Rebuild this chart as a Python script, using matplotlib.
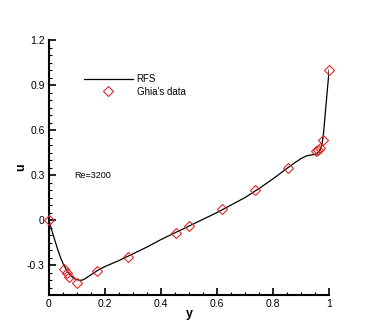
import matplotlib
matplotlib.use("Agg")
import matplotlib.pyplot as plt
from matplotlib.ticker import MultipleLocator, FuncFormatter

plt.rcParams["font.family"] = ["Liberation Sans", "DejaVu Sans"]

# RFS solution, u along the vertical centreline
rfs_y = [0, 0.005, 0.01, 0.02, 0.03, 0.04, 0.05, 0.06, 0.07, 0.08, 0.09, 0.10,
         0.11, 0.12, 0.13, 0.15, 0.17, 0.2, 0.25, 0.3, 0.35, 0.4, 0.45, 0.5,
         0.55, 0.6, 0.65, 0.7, 0.75, 0.8, 0.85, 0.88, 0.9, 0.92, 0.94, 0.955,
         0.968, 0.975, 0.98, 0.99, 1.0]
rfs_u = [0, -0.035, -0.07, -0.13, -0.19, -0.245, -0.29, -0.325, -0.355, -0.375,
         -0.39, -0.398, -0.402, -0.4, -0.39, -0.365, -0.34, -0.31, -0.27, -0.225,
         -0.18, -0.13, -0.085, -0.04, 0.005, 0.05, 0.1, 0.15, 0.21, 0.275, 0.345,
         0.385, 0.41, 0.428, 0.435, 0.44, 0.467, 0.51, 0.578, 0.79, 1.0]

# Ghia et al. data, Re=3200
ghia_y = [1.0, 0.9766, 0.9688, 0.9609, 0.9531, 0.8516, 0.7344, 0.6172, 0.5,
          0.4531, 0.2813, 0.1719, 0.1016, 0.0703, 0.0625, 0.0547, 0.0]
ghia_u = [1.0, 0.53236, 0.48296, 0.46547, 0.46101, 0.34682, 0.19791, 0.07156,
          -0.04272, -0.08664, -0.24427, -0.34323, -0.41933, -0.37827, -0.35344,
          -0.32407, 0.0]

fig = plt.figure(figsize=(3.74, 3.32), dpi=100)
ax = fig.add_axes([0.131, 0.1114, 0.749, 0.7681])

ax.plot(rfs_y, rfs_u, color="black", lw=0.9, label="RFS", zorder=2)
ax.plot(ghia_y, ghia_u, ls="none", marker="D", ms=5.5, mfc="none",
        mec="#e02828", mew=0.8, label="Ghia's data", zorder=3, clip_on=False)

ax.set_xlim(0, 1)
ax.set_ylim(-0.5, 1.2)

for side in ("top", "right"):
    ax.spines[side].set_visible(False)
for side in ("left", "bottom"):
    ax.spines[side].set_linewidth(1.5)

ax.xaxis.set_major_locator(MultipleLocator(0.2))
ax.xaxis.set_minor_locator(MultipleLocator(0.05))
ax.yaxis.set_major_locator(MultipleLocator(0.3))
ax.yaxis.set_minor_locator(MultipleLocator(0.05))
ax.tick_params(which="major", direction="in", length=5, width=1.2,
               labelsize=7.5, pad=3)
ax.tick_params(which="minor", direction="in", length=2.5, width=0.8)
fmt = FuncFormatter(lambda v, p: f"{v:g}")
ax.xaxis.set_major_formatter(fmt)
ax.yaxis.set_major_formatter(fmt)

ax.set_xlabel("y", fontsize=9, fontweight="bold")
ax.set_ylabel("u", fontsize=9, fontweight="bold")
ax.xaxis.set_label_coords(0.5, -0.05)
ax.yaxis.set_label_coords(-0.079, 0.5)

ax.text(0.09, 0.3, "Re=3200", fontsize=6.5, va="center", ha="left")

ax.legend(loc="upper left", bbox_to_anchor=(0.125, 0.867), frameon=False,
          fontsize=7, handlelength=5.0, handletextpad=0.4, labelspacing=0.3,
          borderpad=0, borderaxespad=0)

fig.savefig("out.png", dpi=100)
